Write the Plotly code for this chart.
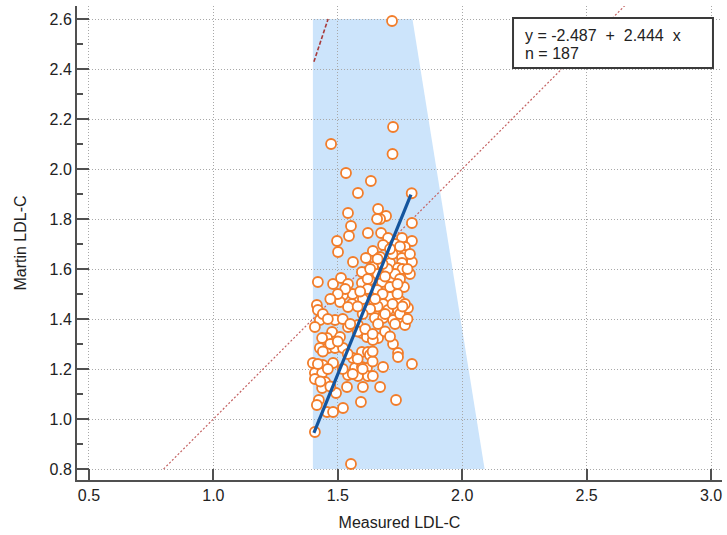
import plotly.graph_objects as go

# ---- data ----
measured = [
    1.718, 1.473, 1.722, 1.720, 1.533, 1.633, 1.581, 1.797, 1.541, 1.662,
    1.694, 1.670, 1.658, 1.553, 1.798,
    1.621, 1.674, 1.545, 1.497, 1.702, 1.758, 1.798, 1.682, 1.770, 1.742,
    1.641, 1.501, 1.770, 1.670, 1.758, 1.613, 1.561, 1.798, 1.758, 1.710,
    1.641, 1.742, 1.690, 1.597, 1.790, 1.420, 1.481, 1.513, 1.541, 1.629,
    1.678, 1.718, 1.597, 1.766, 1.710, 1.658, 1.521, 1.581, 1.601, 1.710,
    1.750, 1.645, 1.509, 1.557, 1.416, 1.682,
    1.420, 1.541, 1.649, 1.702, 1.742, 1.782, 1.428, 1.489, 1.649, 1.682,
    1.722, 1.758, 1.770, 1.662, 1.541, 1.581, 1.408, 1.477, 1.509, 1.597,
    1.457, 1.437, 1.617, 1.662, 1.641, 1.722, 1.428, 1.461, 1.489, 1.521,
    1.597, 1.621, 1.561, 1.742, 1.742, 1.629, 1.400, 1.440, 1.481, 1.682,
    1.798, 1.569, 1.597, 1.617, 1.408, 1.437, 1.541, 1.581, 1.621, 1.641,
    1.408, 1.449, 1.537, 1.601, 1.670, 1.437,
    1.493, 1.424, 1.416, 1.457, 1.481, 1.521, 1.593, 1.734, 1.408, 1.553,
    1.73, 1.75, 1.72, 1.76, 1.78, 1.73, 1.75, 1.70, 1.68, 1.66,
    1.63, 1.62, 1.68, 1.74, 1.77, 1.72, 1.69, 1.75, 1.78, 1.73,
    1.66, 1.63, 1.60, 1.58, 1.56, 1.53, 1.50, 1.47, 1.44, 1.46,
    1.52, 1.55, 1.58, 1.61, 1.64, 1.69, 1.71, 1.47, 1.50, 1.44,
    1.54, 1.58, 1.64, 1.60, 1.56, 1.52, 1.46, 1.42, 1.43, 1.47,
    1.62, 1.66, 1.71, 1.79, 1.74, 1.65, 1.59, 1.64, 1.76, 1.69,
]
martin = [
    2.592, 2.100, 2.168, 2.060, 1.984, 1.952, 1.904, 1.903, 1.824, 1.840,
    1.812, 1.800, 1.800, 1.772, 1.784,
    1.744, 1.744, 1.732, 1.712, 1.724, 1.724, 1.712, 1.696, 1.688, 1.668,
    1.672, 1.668, 1.656, 1.648, 1.644, 1.644, 1.628, 1.628, 1.624, 1.624,
    1.608, 1.604, 1.588, 1.588, 1.580, 1.548, 1.540, 1.564, 1.540, 1.556,
    1.548, 1.564, 1.544, 1.528, 1.528, 1.516, 1.496, 1.484, 1.480, 1.488,
    1.472, 1.472, 1.468, 1.460, 1.456, 1.460,
    1.436, 1.448, 1.436, 1.436, 1.436, 1.444, 1.396, 1.396, 1.404, 1.404,
    1.396, 1.404, 1.376, 1.380, 1.368, 1.376, 1.368, 1.348, 1.328, 1.344,
    1.324, 1.324, 1.328, 1.324, 1.316, 1.300, 1.284, 1.284, 1.284, 1.284,
    1.268, 1.268, 1.244, 1.264, 1.248, 1.256, 1.224, 1.216, 1.224, 1.208,
    1.220, 1.204, 1.208, 1.204, 1.184, 1.184, 1.176, 1.172, 1.172, 1.172,
    1.160, 1.148, 1.128, 1.128, 1.128, 1.124,
    1.104, 1.076, 1.056, 1.028, 1.028, 1.044, 1.068, 1.076, 0.948, 0.820,
    1.70, 1.69, 1.66, 1.60, 1.60, 1.58, 1.56, 1.60, 1.62, 1.58,
    1.60, 1.52, 1.50, 1.50, 1.46, 1.46, 1.42, 1.42, 1.40, 1.38,
    1.45, 1.44, 1.42, 1.45, 1.50, 1.52, 1.50, 1.48, 1.42, 1.40,
    1.40, 1.38, 1.35, 1.36, 1.34, 1.35, 1.33, 1.30, 1.31, 1.27,
    1.26, 1.24, 1.23, 1.20, 1.18, 1.20, 1.20, 1.22, 1.15, 1.13,
    1.56, 1.64, 1.68, 1.66, 1.54, 1.48, 1.51, 1.27, 1.45, 1.57,
]

intercept = -2.487
slope = 2.444
n_obs = 187
fit_x = [1.404, 1.794]
fit_y = [intercept + slope * v for v in fit_x]

identity_x = [0.8, 2.7]
identity_y = [0.8, 2.7]

region_x = [1.40, 1.40, 1.80, 2.09]
region_y = [0.80, 2.60, 2.60, 0.80]

seg_x = [1.404, 1.461]
seg_y = [2.429, 2.600]

x_ticks = [0.5, 1.0, 1.5, 2.0, 2.5, 3.0]
y_ticks = [0.8, 1.0, 1.2, 1.4, 1.6, 1.8, 2.0, 2.2, 2.4, 2.6]

FONT = "Liberation Sans, Arial, sans-serif"
TXT = "#222222"
GRID_DASH = "1px,2px"

fig = go.Figure()

# identity line
fig.add_trace(go.Scatter(x=identity_x, y=identity_y, mode="lines",
                         line=dict(color="#c46262", width=1.2, dash="2px,2px"),
                         hoverinfo="skip", showlegend=False))
# short dashed segment upper-left
fig.add_trace(go.Scatter(x=seg_x, y=seg_y, mode="lines",
                         line=dict(color="#a83a3a", width=1.6, dash="4px,2px"),
                         hoverinfo="skip", showlegend=False))
# points
fig.add_trace(go.Scatter(x=measured, y=martin, mode="markers",
                         marker=dict(size=10, color="white",
                                     line=dict(color="#f27d2a", width=1.8)),
                         showlegend=False))
# regression line
fig.add_trace(go.Scatter(x=fit_x, y=fit_y, mode="lines",
                         line=dict(color="#14559e", width=3.2),
                         showlegend=False))

# shaded region (below grid)
path = "M " + " L ".join(f"{x},{y}" for x, y in zip(region_x, region_y)) + " Z"
fig.add_shape(type="path", path=path, xref="x", yref="y",
              fillcolor="#cce4fb", line=dict(width=0), layer="below")

# equation box
fig.add_shape(type="rect", xref="paper", yref="paper",
              x0=0.676, x1=0.986, y0=0.869, y1=0.9747,
              fillcolor="white", line=dict(color="#3a3a3a", width=2), layer="above")
nb = "\u00a0"
eq_text = f"y = {intercept:.3f}{nb}{nb}+{nb}{nb}{slope:.3f}{nb}{nb}x"
fig.add_annotation(xref="paper", yref="paper", x=0.6915, y=0.9388,
                   xanchor="left", yanchor="middle", showarrow=False,
                   text=eq_text, font=dict(family=FONT, size=16, color=TXT))
fig.add_annotation(xref="paper", yref="paper", x=0.6915, y=0.9008,
                   xanchor="left", yanchor="middle", showarrow=False,
                   text=f"n = {n_obs}", font=dict(family=FONT, size=16, color=TXT))

fig.update_xaxes(range=[0.452, 3.044], tickvals=x_ticks, tickformat=".1f",
                 automargin=False,
                 showgrid=True, gridcolor="#a8a8a8", griddash=GRID_DASH, gridwidth=1,
                 zeroline=False, showline=True, linecolor="#505050", linewidth=2,
                 ticks="inside", ticklen=11, tickwidth=1.5, tickcolor="#505050",
                 tickfont=dict(family=FONT, size=16, color=TXT),
                 title=dict(text="Measured LDL-C", standoff=14,
                            font=dict(family=FONT, size=16, color=TXT)))
fig.update_yaxes(range=[0.756, 2.652], tickvals=y_ticks, tickformat=".1f",
                 automargin=False,
                 showgrid=True, gridcolor="#a8a8a8", griddash=GRID_DASH, gridwidth=1,
                 zeroline=False, showline=True, linecolor="#505050", linewidth=2,
                 ticks="inside", ticklen=12, tickwidth=1.5, tickcolor="#505050",
                 minor=dict(ticks="inside", ticklen=6, dtick=0.1, tick0=0.8,
                            tickcolor="#505050", tickwidth=1.5, showgrid=False),
                 tickfont=dict(family=FONT, size=16, color=TXT),
                 title=dict(text="Martin LDL-C", standoff=19,
                            font=dict(family=FONT, size=16, color=TXT)))

fig.update_layout(width=727, height=535, margin=dict(l=77, r=5, t=6, b=55),
                  plot_bgcolor="white", paper_bgcolor="white",
                  font=dict(family=FONT, size=16, color=TXT))

fig.write_html("out.html", config={"displayModeBar": False},
               post_script="document.body.style.margin='0px';document.body.style.overflow='hidden';")
